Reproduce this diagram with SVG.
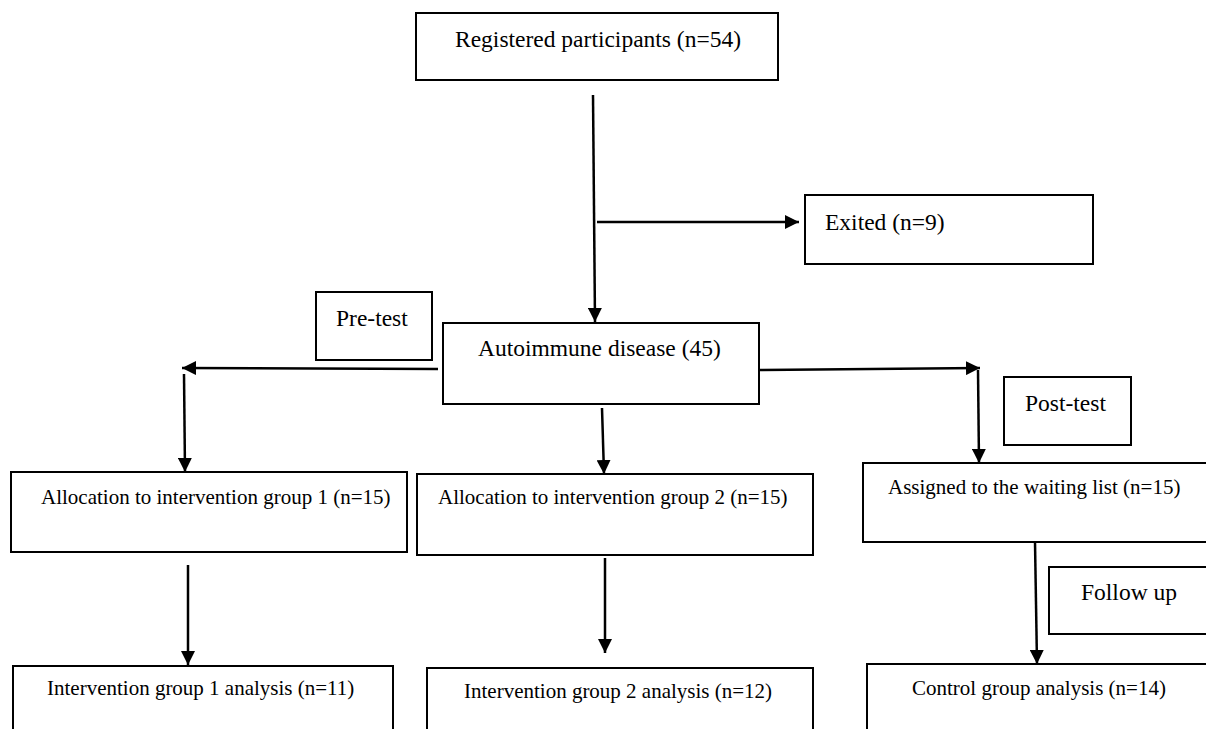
<svg xmlns="http://www.w3.org/2000/svg" width="1206" height="729" viewBox="0 0 1206 729">
<style>
.box{fill:#fff;stroke:#000;stroke-width:2}
.t{font-family:"Liberation Serif","Times New Roman",serif;fill:#000}
.big{font-size:23.5px}
.sm{font-size:21px}
.c{fill:none;stroke:#000;stroke-width:2.5}
</style>
<defs>
<marker id="ah" viewBox="0 0 14 14" refX="14" refY="7" markerWidth="14" markerHeight="14" markerUnits="userSpaceOnUse" orient="auto">
<path d="M0,0 L14,7 L0,14 Z" fill="#000"/>
</marker>
</defs>
<rect width="1206" height="729" fill="#fff"/>
<g id="connectors">
<line class="c" x1="593" y1="95" x2="595" y2="322" marker-end="url(#ah)"/>
<line class="c" x1="597" y1="222" x2="799" y2="222" marker-end="url(#ah)"/>
<line class="c" x1="438" y1="369" x2="182" y2="368" marker-end="url(#ah)"/>
<line class="c" x1="184" y1="374" x2="185" y2="472" marker-end="url(#ah)"/>
<line class="c" x1="602" y1="408" x2="604" y2="474" marker-end="url(#ah)"/>
<line class="c" x1="759" y1="370" x2="980" y2="368" marker-end="url(#ah)"/>
<line class="c" x1="978" y1="370" x2="979" y2="463" marker-end="url(#ah)"/>
<line class="c" x1="188" y1="565" x2="188" y2="665" marker-end="url(#ah)"/>
<line class="c" x1="605" y1="558" x2="605" y2="653" marker-end="url(#ah)"/>
<line class="c" x1="1035" y1="542" x2="1037" y2="664" marker-end="url(#ah)"/>
</g>
<g id="registered"><rect class="box" x="416" y="13" width="362" height="67"/><text class="t big" x="455" y="47">Registered participants (n=54)</text></g>
<g id="exited"><rect class="box" x="805" y="195" width="288" height="69"/><text class="t big" x="825" y="230">Exited (n=9)</text></g>
<g id="pretest"><rect class="box" x="316" y="292" width="116" height="68"/><text class="t big" x="336" y="326">Pre-test</text></g>
<g id="autoimmune"><rect class="box" x="443" y="323" width="316" height="81"/><text class="t big" x="478" y="356">Autoimmune disease (45)</text></g>
<g id="posttest"><rect class="box" x="1004" y="377" width="127" height="68"/><text class="t big" x="1025" y="411">Post-test</text></g>
<g id="alloc1"><rect class="box" x="11" y="472" width="396" height="80"/><text class="t sm" x="41" y="504">Allocation to intervention group 1 (n=15)</text></g>
<g id="alloc2"><rect class="box" x="417" y="474" width="396" height="81"/><text class="t sm" x="438" y="504">Allocation to intervention group 2 (n=15)</text></g>
<g id="waiting"><rect class="box" x="863" y="463" width="360" height="79"/><text class="t sm" x="888" y="494">Assigned to the waiting list (n=15)</text></g>
<g id="followup"><rect class="box" x="1049" y="567" width="170" height="67"/><text class="t big" x="1081" y="600">Follow up</text></g>
<g id="int1"><rect class="box" x="13" y="666" width="380" height="80"/><text class="t sm" x="47" y="695">Intervention group 1 analysis (n=11)</text></g>
<g id="int2"><rect class="box" x="427" y="668" width="386" height="80"/><text class="t sm" x="464" y="698">Intervention group 2 analysis (n=12)</text></g>
<g id="control"><rect class="box" x="867" y="664" width="360" height="80"/><text class="t sm" x="912" y="695">Control group analysis (n=14)</text></g>
</svg>
